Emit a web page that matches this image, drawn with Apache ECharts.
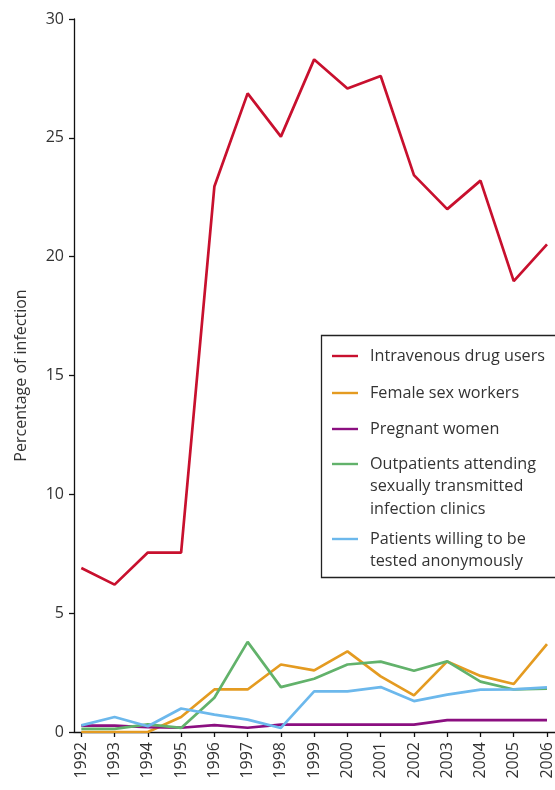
<!DOCTYPE html>
<html>
<head>
<meta charset="utf-8">
<script src="https://cdn.jsdelivr.net/npm/echarts@6/dist/echarts.min.js"></script>
<style>
html,body{margin:0;padding:0;background:#fff;}
#chart{width:555px;height:790px;}
</style>
</head>
<body>
<div id="chart"></div>
<script>
const years = [1992,1993,1994,1995,1996,1997,1998,1999,2000,2001,2002,2003,2004,2005,2006];
const yTicks = [0,5,10,15,20,25,30];
const seriesNames = [
  'Intravenous drug users',
  'Female sex workers',
  'Pregnant women',
  'Outpatients attending\nsexually transmitted\ninfection clinics',
  'Patients willing to be\ntested anonymously'
];
const seriesColors = ['#c8102e','#e49b21','#8b0f80','#62b26b','#6cb8ec'];
const drugUsers     = [6.9,6.2,7.55,7.55,22.95,26.87,25.05,28.3,27.08,27.6,23.43,22.0,23.2,18.97,20.52];
const sexWorkers    = [0,0,0,0.63,1.79,1.79,2.84,2.59,3.39,2.34,1.54,2.97,2.36,2.02,3.70];
const pregnant      = [0.27,0.27,0.2,0.18,0.29,0.18,0.31,0.31,0.31,0.31,0.31,0.5,0.5,0.5,0.5];
const outpatients   = [0.13,0.13,0.32,0.17,1.44,3.79,1.89,2.24,2.84,2.96,2.58,2.97,2.12,1.79,1.82];
const anonymous     = [0.28,0.63,0.24,0.99,0.73,0.52,0.17,1.71,1.71,1.89,1.30,1.57,1.78,1.79,1.88];
const seriesValues = [drugUsers, sexWorkers, pregnant, outpatients, anonymous];

const FONT = '"Open Sans", "Noto Sans", sans-serif';
const TXT = '#333';

const chart = echarts.init(document.getElementById('chart'), null, {renderer:'canvas'});

const series = seriesNames.map((name, i) => ({
  name: name,
  type: 'line',
  data: years.map((y, k) => [y, seriesValues[i][k]]),
  symbol: 'none',
  lineStyle: {color: seriesColors[i], width: 2.7},
  itemStyle: {color: seriesColors[i]},
  emphasis: {disabled: true},
  z: 2
}));

// legend: centre of the first text line of each entry
const legendLineCentres = [356, 393, 429, 464, 539];
const LH = 22.5;
const legends = seriesNames.map((name, i) => {
  const lines = name.split('\n').length;
  const boxH = (2 * lines - 1) * LH;
  return {
    data: [{name: name, icon: 'rect'}],
    formatter: n => '\n'.repeat(n.split('\n').length - 1) + n,
    left: 332,
    top: legendLineCentres[i] - boxH / 2,
    padding: 0,
    orient: 'vertical',
    itemWidth: 26,
    itemHeight: 2.4,
    selectedMode: false,
    textStyle: {fontFamily: FONT, fontSize: 16.2, color: TXT, lineHeight: LH, padding: [0, 0, 0, 7]}
  };
});

chart.setOption({
  animation: false,
  backgroundColor: '#fff',
  textStyle: {fontFamily: FONT},
  grid: {left: 74, right: 0, top: 19, bottom: 58, containLabel: false},
  xAxis: {
    type: 'value',
    min: 1991.78,
    max: 2006.24,
    splitLine: {show: false},
    axisLine: {show: true, lineStyle: {color: '#111', width: 1.3}},
    axisTick: {show: true, length: 5, lineStyle: {color: '#111', width: 1.3}, customValues: years},
    axisLabel: {
      customValues: years,
      rotate: 90,
      margin: 10,
      fontSize: 16,
      color: TXT,
      fontFamily: FONT,
      formatter: v => String(v)
    }
  },
  yAxis: {
    type: 'value',
    min: 0,
    max: 30,
    interval: 5,
    name: 'Percentage of infection',
    nameLocation: 'middle',
    nameGap: 45,
    nameTextStyle: {fontSize: 16, color: TXT, fontFamily: FONT},
    splitLine: {show: false},
    axisLine: {show: true, lineStyle: {color: '#111', width: 1.3}},
    axisTick: {show: true, length: 5, lineStyle: {color: '#111', width: 1.3}},
    axisLabel: {
      customValues: yTicks,
      margin: 10,
      fontSize: 16,
      color: TXT,
      fontFamily: FONT
    }
  },
  legend: legends,
  graphic: [{
    type: 'rect',
    shape: {x: 321.5, y: 335.5, width: 240, height: 242},
    style: {fill: 'none', stroke: '#222', lineWidth: 1.3},
    silent: true,
    z: 10
  }],
  series: series
});
</script>
</body>
</html>
